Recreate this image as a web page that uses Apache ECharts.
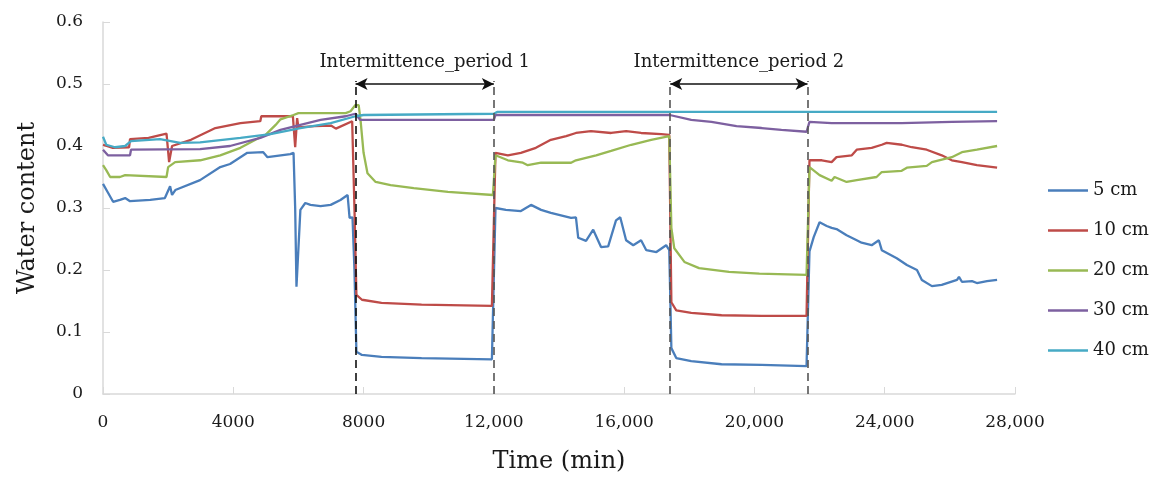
<!DOCTYPE html>
<html>
<head>
<meta charset="utf-8">
<script src="https://cdn.jsdelivr.net/npm/echarts@6/dist/echarts.min.js"></script>
<style>
	html, body { margin: 0; padding: 0; background: #fff; }
	#chart { width: 1151px; height: 481px; }
</style>
</head>
<body>
<div id="chart"></div>
<script>
	/* depth sensor series: [time (min), water content] */
	var seriesNames = ['5 cm', '10 cm', '20 cm', '30 cm', '40 cm'];
	var colorList = ['#4a7ebb', '#be4b48', '#98b954', '#7d60a0', '#46aac5'];

	var depth5 = [
		[0, 0.339], [150, 0.325], [310, 0.31], [520, 0.313], [680, 0.316], [830, 0.311], [1450, 0.313],
		[1900, 0.316], [2060, 0.335], [2120, 0.321], [2220, 0.329], [2980, 0.345], [3600, 0.366],
		[3900, 0.371], [4430, 0.389], [4920, 0.39], [5050, 0.382], [5750, 0.387], [5850, 0.389],
		[5900, 0.3], [5940, 0.173], [6060, 0.297], [6210, 0.308], [6370, 0.305], [6680, 0.303],
		[6990, 0.305], [7290, 0.313], [7510, 0.321], [7570, 0.284], [7660, 0.285], [7720, 0.2],
		[7780, 0.068], [7950, 0.063], [8550, 0.06], [9780, 0.058], [11940, 0.056], [12000, 0.056],
		[12050, 0.3], [12370, 0.297], [12830, 0.295], [13140, 0.305], [13450, 0.297], [13750, 0.292],
		[14370, 0.284], [14520, 0.285], [14590, 0.252], [14830, 0.247], [15050, 0.265], [15290, 0.237],
		[15510, 0.238], [15750, 0.28], [15880, 0.285], [16060, 0.248], [16280, 0.24], [16520, 0.248],
		[16680, 0.232], [16990, 0.229], [17290, 0.24], [17385, 0.232], [17450, 0.074], [17600, 0.058],
		[18060, 0.053], [18990, 0.048], [20220, 0.047], [21600, 0.045], [21690, 0.23], [21820, 0.253],
		[22000, 0.277], [22220, 0.271], [22370, 0.268], [22520, 0.266], [22830, 0.256], [23140, 0.248],
		[23290, 0.244], [23600, 0.24], [23820, 0.248], [23910, 0.232], [24370, 0.219], [24680, 0.208],
		[24990, 0.2], [25140, 0.184], [25450, 0.174], [25750, 0.176], [26220, 0.184], [26280, 0.189],
		[26370, 0.181], [26680, 0.182], [26830, 0.179], [27140, 0.182], [27450, 0.184]
	];
	var depth10 = [
		[0, 0.402], [300, 0.397], [800, 0.398], [830, 0.411], [1400, 0.413], [1950, 0.42], [2030, 0.374],
		[2120, 0.4], [2700, 0.41], [3450, 0.429], [4220, 0.437], [4830, 0.44], [4860, 0.448], [5830, 0.448],
		[5900, 0.398], [5960, 0.445], [6000, 0.43], [6500, 0.432], [7000, 0.433], [7150, 0.428],
		[7650, 0.44], [7720, 0.3], [7780, 0.16], [7950, 0.152], [8550, 0.147], [9780, 0.144],
		[11940, 0.142], [12000, 0.142], [12050, 0.389], [12430, 0.385], [12830, 0.389], [13290, 0.397],
		[13750, 0.41], [14220, 0.416], [14520, 0.421], [14980, 0.424], [15600, 0.421], [16060, 0.424],
		[16520, 0.421], [17140, 0.419], [17385, 0.418], [17450, 0.148], [17600, 0.135], [18060, 0.131],
		[18990, 0.127], [20220, 0.126], [21600, 0.126], [21690, 0.377], [22070, 0.377], [22370, 0.374],
		[22520, 0.382], [22990, 0.385], [23140, 0.394], [23600, 0.397], [23910, 0.402], [24060, 0.405],
		[24530, 0.402], [24830, 0.398], [25290, 0.394], [25750, 0.385], [26060, 0.377], [26370, 0.374],
		[26830, 0.369], [27450, 0.365]
	];
	var depth20 = [
		[0, 0.369], [100, 0.361], [220, 0.35], [520, 0.35], [680, 0.353], [1950, 0.35], [2000, 0.366],
		[2215, 0.374], [2985, 0.377], [3600, 0.385], [4220, 0.397], [4680, 0.41], [4990, 0.418],
		[5300, 0.434], [5450, 0.443], [5850, 0.45], [6000, 0.453], [7450, 0.453], [7600, 0.456],
		[7750, 0.466], [7850, 0.466], [7910, 0.44], [8000, 0.389], [8120, 0.356], [8370, 0.342],
		[8830, 0.337], [9540, 0.332], [10590, 0.326], [11970, 0.321], [12050, 0.385], [12430, 0.377],
		[12890, 0.373], [13040, 0.369], [13450, 0.373], [14370, 0.373], [14520, 0.377], [15140, 0.385],
		[15600, 0.392], [16220, 0.402], [16830, 0.41], [17385, 0.416], [17450, 0.268], [17540, 0.235],
		[17850, 0.213], [18300, 0.203], [19220, 0.197], [20150, 0.194], [21600, 0.192], [21690, 0.366],
		[22000, 0.353], [22370, 0.344], [22460, 0.35], [22830, 0.342], [23140, 0.345], [23200, 0.348],
		[23750, 0.35], [23910, 0.358], [24520, 0.36], [24680, 0.365], [25290, 0.368], [25450, 0.374],
		[26060, 0.382], [26370, 0.39], [26830, 0.394], [27450, 0.4]
	];
	var depth30 = [
		[0, 0.394], [150, 0.385], [830, 0.385], [860, 0.394], [2980, 0.395], [3900, 0.4], [4830, 0.413],
		[5450, 0.426], [6060, 0.434], [6680, 0.442], [7450, 0.448], [7750, 0.452], [7900, 0.442],
		[12000, 0.442], [12050, 0.45], [17400, 0.45], [17450, 0.447], [18060, 0.442], [18680, 0.439],
		[19450, 0.432], [20220, 0.429], [20830, 0.426], [21600, 0.423], [21690, 0.439], [22370, 0.437],
		[24520, 0.437], [26060, 0.439], [27450, 0.44]
	];
	var depth40 = [
		[0, 0.415], [100, 0.402], [370, 0.398], [680, 0.4], [860, 0.408], [1750, 0.411], [2370, 0.405],
		[2980, 0.406], [4220, 0.413], [5140, 0.419], [6060, 0.429], [6990, 0.437], [7750, 0.448],
		[8000, 0.45], [12000, 0.452], [12100, 0.455], [27450, 0.455]
	];

	/* intermittence periods: start / end time */
	var periods = [[7754, 12000], [17415, 21630]];
	var periodLabels = ['Intermittence_period 1', 'Intermittence_period 2'];
	var periodTop = 0.505;
	var arrowLevel = 0.5;

	var xTickLabels = ['0', '4000', '8000', '12,000', '16,000', '20,000', '24,000', '28,000'];
	var yTickLabels = ['0', '0.1', '0.2', '0.3', '0.4', '0.5', '0.6'];

	var fontFamily = 'DejaVu Serif';

	function createMarkLines() {
		var lines = [];
		for (var i = 0; i < periods.length; i++) {
			for (var j = 0; j < 2; j++) {
				lines.push([{
					coord: [periods[i][j], 0],
					lineStyle: { color: (i === 0 && j === 0) ? '#111' : '#555', type: [8, 5], width: 1.6 }
				}, {
					coord: [periods[i][j], periodTop]
				}]);
			}
			lines.push([{
				coord: [periods[i][0], arrowLevel],
				symbol: 'arrow',
				lineStyle: { color: '#111', type: 'solid', width: 1.6 },
				label: {
					show: true,
					position: 'middle',
					distance: 13,
					formatter: periodLabels[i],
					color: '#1a1a1a',
					fontFamily: fontFamily,
					fontSize: 18
				}
			}, {
				coord: [periods[i][1], arrowLevel],
				symbol: 'arrow'
			}]);
		}
		return lines;
	}

	function createSeries() {
		var all = [depth5, depth10, depth20, depth30, depth40];
		var result = [];
		for (var i = 0; i < all.length; i++) {
			var s = {
				name: seriesNames[i],
				type: 'line',
				data: all[i],
				symbol: 'none',
				smooth: false,
				lineStyle: { width: 2.3, color: colorList[i] },
				itemStyle: { color: colorList[i] },
				z: 2 + i
			};
			if (i === 0) {
				s.markLine = {
					silent: true,
					symbol: ['none', 'none'],
					symbolSize: [9, 12],
					label: { show: false },
					data: createMarkLines(),
					z: 10
				};
			}
			result.push(s);
		}
		return result;
	}

	var option = {
		backgroundColor: '#ffffff',
		animation: false,
		color: colorList,
		grid: { left: 103, right: 136, top: 22, bottom: 87 },
		legend: {
			orient: 'vertical',
			left: 1043,
			top: 175,
			itemWidth: 40,
			itemHeight: 14,
			itemGap: 19,
			icon: 'path://M0,0L40,0L40,2.4L0,2.4Z',
			textStyle: { fontFamily: fontFamily, fontSize: 18, color: '#1a1a1a', lineHeight: 21 },
			data: seriesNames
		},
		xAxis: {
			type: 'value',
			min: 0,
			max: 28000,
			interval: 4000,
			name: 'Time (min)',
			nameLocation: 'middle',
			nameGap: 56,
			nameTextStyle: { fontFamily: fontFamily, fontSize: 24, color: '#1a1a1a' },
			axisLine: { lineStyle: { color: '#d9d9d9', width: 1.5 } },
			axisTick: { show: true, inside: true, length: 7, lineStyle: { color: '#d9d9d9' } },
			axisLabel: {
				margin: 20,
				fontFamily: fontFamily,
				fontSize: 17,
				color: '#1a1a1a',
				formatter: function(v) {
					return xTickLabels[Math.round(v / 4000)];
				}
			},
			splitLine: { show: false }
		},
		yAxis: {
			type: 'value',
			min: 0,
			max: 0.6,
			interval: 0.1,
			name: 'Water content',
			nameLocation: 'middle',
			nameGap: 63,
			nameRotate: 90,
			nameTextStyle: { fontFamily: fontFamily, fontSize: 24, color: '#1a1a1a' },
			axisLine: { show: true, lineStyle: { color: '#d9d9d9', width: 1.5 } },
			axisTick: { show: true, inside: true, length: 7, lineStyle: { color: '#d9d9d9' } },
			axisLabel: {
				margin: 20,
				fontFamily: fontFamily,
				fontSize: 17,
				color: '#1a1a1a',
				formatter: function(v) {
					return yTickLabels[Math.round(v * 10)];
				}
			},
			splitLine: { show: false }
		},
		series: createSeries()
	};

	var chart = echarts.init(document.getElementById('chart'));
	chart.setOption(option);
</script>
</body>
</html>
